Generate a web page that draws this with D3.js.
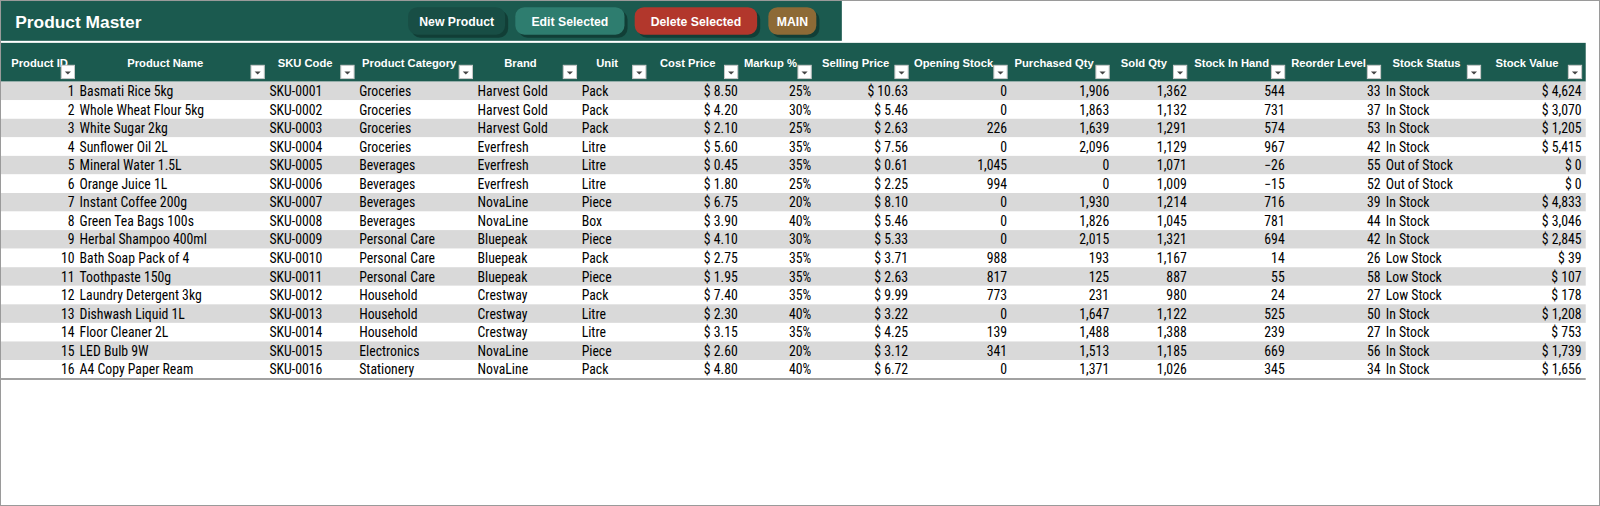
<!DOCTYPE html>
<html><head><meta charset="utf-8">
<script src="https://cdn.jsdelivr.net/npm/d3@7"></script>
<style>
body{margin:0;background:#fff;}
svg{display:block;font-family:"Liberation Sans Narrow","Roboto Condensed","Liberation Sans",Arial,sans-serif;}
</style></head><body>
<div id="chart"></div>
<script>
const headers = ["Product ID","Product Name","SKU Code","Product Category","Brand","Unit","Cost Price","Markup %","Selling Price","Opening Stock","Purchased Qty","Sold Qty","Stock In Hand","Reorder Level","Stock Status","Stock Value"];
const ids = d3.range(1,17);
const names = ["Basmati Rice 5kg","Whole Wheat Flour 5kg","White Sugar 2kg","Sunflower Oil 2L","Mineral Water 1.5L","Orange Juice 1L","Instant Coffee 200g","Green Tea Bags 100s","Herbal Shampoo 400ml","Bath Soap Pack of 4","Toothpaste 150g","Laundry Detergent 3kg","Dishwash Liquid 1L","Floor Cleaner 2L","LED Bulb 9W","A4 Copy Paper Ream"];
const skus = ids.map(i => "SKU-" + String(i).padStart(4,"0"));
const categories = ["Groceries","Groceries","Groceries","Groceries","Beverages","Beverages","Beverages","Beverages","Personal Care","Personal Care","Personal Care","Household","Household","Household","Electronics","Stationery"];
const brands = ["Harvest Gold","Harvest Gold","Harvest Gold","Everfresh","Everfresh","Everfresh","NovaLine","NovaLine","Bluepeak","Bluepeak","Bluepeak","Crestway","Crestway","Crestway","NovaLine","NovaLine"];
const units = ["Pack","Pack","Pack","Litre","Litre","Litre","Piece","Box","Piece","Pack","Piece","Pack","Litre","Litre","Piece","Pack"];
const costPrice = [8.50,4.20,2.10,5.60,0.45,1.80,6.75,3.90,4.10,2.75,1.95,7.40,2.30,3.15,2.60,4.80];
const markup = [25,30,25,35,35,25,20,40,30,35,35,35,40,35,20,40];
const sellingPrice = [10.63,5.46,2.63,7.56,0.61,2.25,8.10,5.46,5.33,3.71,2.63,9.99,3.22,4.25,3.12,6.72];
const openingStock = [0,0,226,0,1045,994,0,0,0,988,817,773,0,139,341,0];
const purchasedQty = [1906,1863,1639,2096,0,0,1930,1826,2015,193,125,231,1647,1488,1513,1371];
const soldQty = [1362,1132,1291,1129,1071,1009,1214,1045,1321,1167,887,980,1122,1388,1185,1026];
const stockInHand = [544,731,574,967,-26,-15,716,781,694,14,55,24,525,239,669,345];
const reorderLevel = [33,37,53,42,55,52,39,44,42,26,58,27,50,27,56,34];
const stockStatus = ["In Stock","In Stock","In Stock","In Stock","Out of Stock","Out of Stock","In Stock","In Stock","In Stock","Low Stock","Low Stock","Low Stock","In Stock","In Stock","In Stock","In Stock"];
const stockValue = [4624,3070,1205,5415,0,0,4833,3046,2845,39,107,178,1208,753,1739,1656];

const buttons = [{t:"New Product",c:"#184e45"},{t:"Edit Selected",c:"#2e7d6f"},{t:"Delete Selected",c:"#b2372c"},{t:"MAIN",c:"#8d6a36"}];

const fmtN = d3.format(",");
const money = v => "$ " + d3.format(",.2f")(v);
const moneyInt = v => "$ " + fmtN(v);

const edges = [0,76,262,350,466,568,636,726,798,893,990,1090,1166,1262,1356,1454,1553];
const cols = [
  {v:ids, f:d=>d, a:"r"},
  {v:names, f:d=>d, a:"l"},
  {v:skus, f:d=>d, a:"l"},
  {v:categories, f:d=>d, a:"l"},
  {v:brands, f:d=>d, a:"l"},
  {v:units, f:d=>d, a:"l"},
  {v:costPrice, f:money, a:"r"},
  {v:markup, f:d=>d+"%", a:"r"},
  {v:sellingPrice, f:money, a:"r"},
  {v:openingStock, f:fmtN, a:"r"},
  {v:purchasedQty, f:fmtN, a:"r"},
  {v:soldQty, f:fmtN, a:"r"},
  {v:stockInHand, f:fmtN, a:"r"},
  {v:reorderLevel, f:d=>d, a:"r"},
  {v:stockStatus, f:d=>d, a:"l"},
  {v:stockValue, f:moneyInt, a:"r"}
];

const W = 1600, H = 506;
const svg0 = d3.select("#chart").append("svg").attr("width", W).attr("height", H);

svg0.append("rect").attr("x",0.5).attr("y",0.5).attr("width",W-1).attr("height",H-1)
  .attr("fill","#fff").attr("stroke","#9a9a9a");

// layout laid out on a 1568 grid, scaled to page
const k = 1600/1568;
const svg = svg0.append("g").attr("transform",`scale(${k})`);

svg.append("rect").attr("x",1).attr("y",1).attr("width",824).attr("height",39).attr("fill","#1b5a4f");
svg.append("text").attr("x",15).attr("y",27).attr("fill","#fff").attr("font-weight","bold")
  .attr("font-size",17).attr("font-family","'Liberation Sans',Arial,sans-serif").text("Product Master");

const bx = d3.scaleOrdinal().domain(buttons.map(d=>d.t)).range([400,505,622,753]);
const bw = d3.scaleOrdinal().domain(buttons.map(d=>d.t)).range([95,107,120,47]);
const bg = svg.append("g").selectAll("g").data(buttons).join("g")
  .attr("transform", d => `translate(${bx(d.t)},7)`);
bg.append("rect").attr("x",3).attr("y",3).attr("width",d=>bw(d.t)).attr("height",27).attr("rx",9).attr("fill","#0c2c26").attr("opacity",0.6);
bg.append("rect").attr("width",d=>bw(d.t)).attr("height",27).attr("rx",9).attr("fill",d=>d.c);
bg.append("text").attr("x",d=>bw(d.t)/2).attr("y",18).attr("text-anchor","middle")
  .attr("fill","#fff").attr("font-weight","bold").attr("font-size",12)
  .attr("font-family","'Liberation Sans',Arial,sans-serif").text(d=>d.t);

const tableW = 1553;
svg.append("rect").attr("x",1).attr("y",42).attr("width",tableW).attr("height",38).attr("fill","#1b5a4f");

const y = d3.scaleBand().domain(ids).range([80, 371]);

const hg = svg.append("g").selectAll("g").data(headers).join("g");
hg.append("text")
  .attr("x",(d,i)=> i===0 ? 11 : (edges[i]+edges[i+1]-14)/2)
  .attr("text-anchor",(d,i)=> i===0 ? "start" : "middle")
  .attr("y",66).attr("fill","#fff").attr("font-weight","bold").attr("font-size",11)
  .attr("font-family","'Liberation Sans',Arial,sans-serif").text(d=>d);
hg.append("rect").attr("x",(d,i)=>edges[i+1]-16).attr("y",64).attr("width",13).attr("height",13)
  .attr("fill","#fff").attr("stroke","#c8c8c8");
hg.append("path").attr("d",(d,i)=>{const cx=edges[i+1]-9.5;return `M${cx-3},${70}L${cx+3},${70}L${cx},${73}Z`;})
  .attr("fill","#444");

svg.append("g").selectAll("rect").data(ids).join("rect")
  .attr("x",1).attr("y",d=>y(d)).attr("width",tableW).attr("height",y.bandwidth())
  .attr("fill",(d,i)=> i%2===0 ? "#d9d9d9" : "#ffffff");
svg.append("line").attr("x1",1).attr("x2",tableW+1).attr("y1",371.5).attr("y2",371.5).attr("stroke","#444");

const body = svg.append("g").attr("font-size",13.5).attr("fill","#000");
cols.forEach((c,ci) => {
  body.append("g").selectAll("text").data(c.v).join("text")
    .attr("x", c.a==="r" ? edges[ci+1]-3 : edges[ci]+2)
    .attr("text-anchor", c.a==="r" ? "end" : "start")
    .attr("y",(d,i)=> y(ids[i]) + y.bandwidth()/2 + 5)
    .text(d=>c.f(d));
});
</script>
</body></html>
